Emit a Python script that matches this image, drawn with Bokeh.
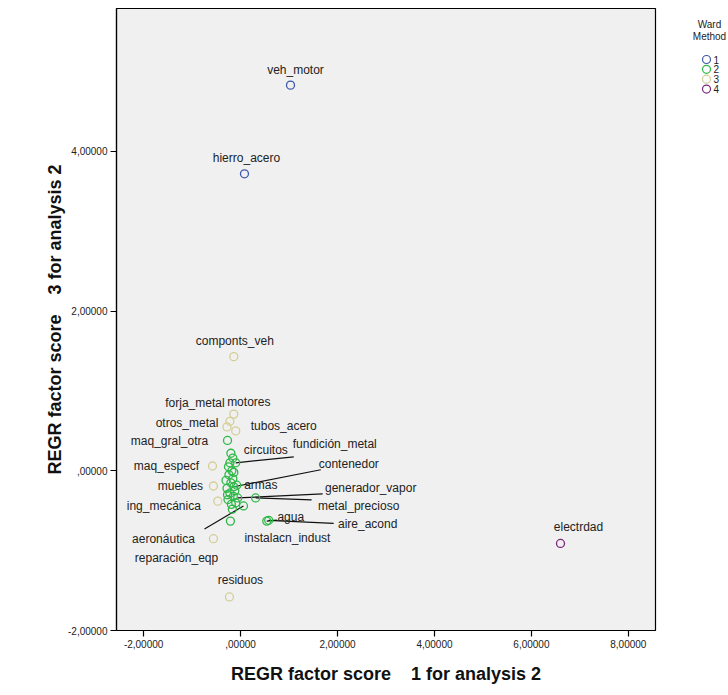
from bokeh.plotting import figure
from bokeh.models import Range1d, FixedTicker, ColumnDataSource
from bokeh.layouts import row
from bokeh.embed import file_html
from bokeh.resources import INLINE

# Industry scores on factor 1 (x) and factor 3 (y), with Ward cluster membership
names = ["veh_motor", "hierro_acero", "componts_veh", "motores", "forja_metal",
         "otros_metal", "tubos_acero", "maq_gral_otra", "circuitos", "fundición_metal",
         "maq_especf", "armas", "contenedor", "muebles", "generador_vapor",
         "ing_mecánica", "metal_precioso", "agua", "aire_acond", "aeronáutica",
         "instalacn_indust", "reparación_eqp", "residuos", "electrdad",
         "", "", "", "", "", "", "", "", "", "", "", "", "", "", "", "", "", ""]
score1 = [1.03, 0.08, -0.14, -0.14, -0.22,
          -0.28, -0.10, -0.27, -0.16, -0.10,
          -0.58, -0.16, -0.14, -0.56, -0.06,
          -0.47, 0.31, 0.54, 0.58, -0.56,
          -0.21, 0.06, -0.23, 6.60,
          -0.20, -0.25, -0.18, -0.24, -0.20, -0.28, -0.22, -0.15, -0.26, -0.19,
          -0.10, -0.30, -0.12, -0.22, -0.17, -0.08, -0.27, -0.14]
score3 = [4.83, 3.72, 1.43, 0.71, 0.62,
          0.55, 0.50, 0.38, 0.16, 0.10,
          0.06, -0.10, -0.20, -0.19, -0.34,
          -0.38, -0.34, -0.63, -0.62, -0.85,
          -0.63, -0.44, -1.58, -0.91,
          0.22, 0.05, 0.00, -0.05, -0.15, -0.22, -0.28, -0.32, -0.36, -0.42,
          -0.40, -0.12, -0.25, 0.10, -0.48, -0.18, -0.30, -0.02]
cluster = [1, 1, 3, 3, 3,
           3, 3, 2, 2, 2,
           3, 2, 2, 3, 2,
           3, 2, 2, 2, 3,
           2, 2, 3, 4,
           2, 2, 2, 2, 2, 2, 2, 2, 2, 2,
           2, 2, 2, 2, 2, 2, 2, 2]

cluster_ids = [1, 2, 3, 4]
cluster_colors = {1: "#3e58ac", 2: "#2eb848", 3: "#d3ce97", 4: "#7c287d"}

x_ticks = [-2, 0, 2, 4, 6, 8]
y_ticks = [-2, 0, 2, 4]
tick_text = {-2: "-2,00000", 0: ",00000", 2: "2,00000", 4: "4,00000",
             6: "6,00000", 8: "8,00000"}

# Label placement: pixel offset of each label from its point (y grows downward)
label_dx = [5, 2, 1, 15, -35, -40, 48, -58, 33, 99, -46, 28, 115, -33, 133,
            -54, 103, 24, 99, -50, 57, -67, 11, 18]
label_dy = [-15, -16, -16, -12, -18, -4, -5, 1, -8, -19, 0, 6, -23, 0, -10,
            5, 8, -4, 4, 0, 17, 52, -17, -16]
# Leader lines: (point index, pixel offset of the line's far end)
leaders = [(9, 58, -6), (12, 87, -17), (14, 85, -4), (16, 56, 2),
           (17, 10, -1), (18, 65, 3), (21, -39, 23)]

X0, X1, Y0, Y1 = -2.56, 8.56, -2.0, 5.79
W, H = 658, 695
BL, BR, BT, BB = 116, 3, 8, 65
px_x = (W - BL - BR) / (X1 - X0)
px_y = (H - BT - BB) / (Y1 - Y0)
FONT = "Liberation Sans"
GAP = " \u00a0\u00a0 "

p = figure(width=W, height=H, output_backend="svg", toolbar_location=None,
           x_range=Range1d(X0, X1), y_range=Range1d(Y0, Y1),
           min_border_left=BL, min_border_right=BR, min_border_top=BT,
           min_border_bottom=BB, background_fill_color="#f0f0f0",
           border_fill_color="white", outline_line_color="black",
           outline_line_width=1.2)
p.grid.visible = False

for ax, ticks, lab in ((p.xaxis[0], x_ticks, "REGR factor score" + GAP + "1 for analysis 2"),
                       (p.yaxis[0], y_ticks, "REGR factor score" + GAP + "3 for analysis 2")):
    ax.ticker = FixedTicker(ticks=ticks)
    ax.major_label_overrides = {t: tick_text[t] for t in ticks}
    ax.axis_label = lab
    ax.axis_label_text_font = FONT
    ax.axis_label_text_font_style = "bold"
    ax.axis_label_text_font_size = "18px"
    ax.axis_label_text_color = "#111111"
    ax.major_label_text_font = FONT
    ax.major_label_text_font_size = "10px"
    ax.major_label_text_color = "#222222"
    ax.axis_line_color = "black"
    ax.axis_line_width = 1.2
    ax.major_tick_line_color = "black"
    ax.major_tick_line_width = 1.2
    ax.major_tick_in = 0
    ax.major_tick_out = 6
    ax.minor_tick_line_color = None
    ax.major_label_standoff = 3
p.xaxis[0].axis_label_standoff = 13
p.yaxis[0].axis_label_standoff = 0

# Leader lines
lx0, ly0, lx1, ly1 = [], [], [], []
for i, dx, dy in leaders:
    lx0.append(score1[i]); ly0.append(score3[i])
    lx1.append(score1[i] + dx / px_x); ly1.append(score3[i] - dy / px_y)
p.segment(lx0, ly0, lx1, ly1, line_color="#111111", line_width=1.2)

# Points by cluster
for c in [3, 2, 1, 4]:
    idx = [i for i, k in enumerate(cluster) if k == c]
    src = ColumnDataSource(dict(x=[score1[i] for i in idx], y=[score3[i] for i in idx]))
    p.scatter("x", "y", source=src, marker="circle", size=8,
              fill_color=None, line_color=cluster_colors[c], line_width=1.3)

# Point labels
n = len(label_dx)
lsrc = ColumnDataSource(dict(x=score1[:n], y=score3[:n], t=names[:n],
                             dx=label_dx, dy=label_dy))
p.text("x", "y", text="t", source=lsrc, x_offset="dx", y_offset="dy",
       text_align="center", text_baseline="middle", text_font_size="12px",
       text_font={"value": FONT}, text_color="#222222")

# Legend panel on the right, laid out in pixel coordinates from the top
LW = 728 - W
lg = figure(width=LW, height=H, output_backend="svg", toolbar_location=None,
            x_range=Range1d(0, LW), y_range=Range1d(H, 0),
            min_border=0, outline_line_color=None, background_fill_color="white",
            border_fill_color="white")
lg.axis.visible = False
lg.grid.visible = False
lg.text([51, 51], [18, 31], text=["Ward", "Method"], text_align="center",
        text_baseline="middle", text_font_size="10px", text_font={"value": FONT},
        text_color="#222222")
row_y = [57 + 11 * k for k in range(len(cluster_ids))]
lg.scatter([48] * len(cluster_ids), row_y, marker="circle", size=8, fill_color=None,
           line_color=[cluster_colors[c] for c in cluster_ids], line_width=1.2)
lg.text([55] * len(cluster_ids), row_y, text=[str(c) for c in cluster_ids],
        text_align="left", text_baseline="middle", text_font_size="10px",
        text_font={"value": FONT}, text_color="#222222")

open("out.html", "w").write(file_html(row(p, lg), INLINE))
